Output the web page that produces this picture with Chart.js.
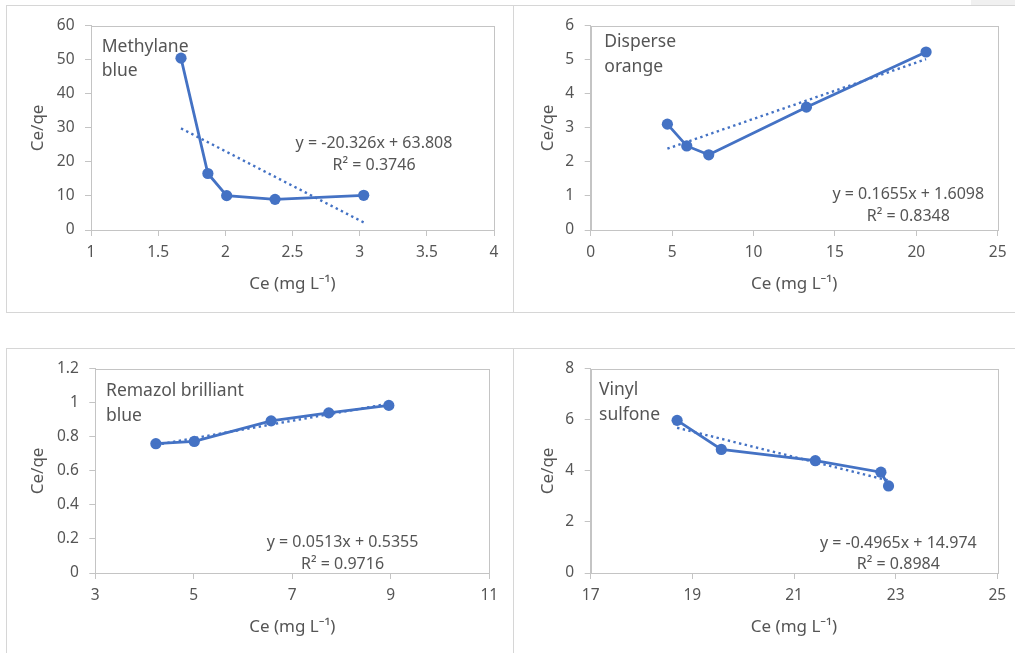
<!DOCTYPE html>
<html><head><meta charset="utf-8">
<script src="https://cdn.jsdelivr.net/npm/chart.js@4.4.1/dist/chart.umd.min.js"></script>
<style>
html,body{margin:0;padding:0;background:#fff;width:1015px;height:653px;overflow:hidden;position:relative;}
.panel{position:absolute;}
.panel canvas{display:block;}
.ln{position:absolute;background:#d6d6d6;}
</style></head><body>
<div class="ln" style="left:971px;top:0;width:44px;height:5px;background:#f0f0f0"></div>
<div class="ln" style="left:7px;top:5px;width:1008px;height:1px"></div>
<div class="ln" style="left:7px;top:312px;width:1008px;height:1px"></div>
<div class="ln" style="left:7px;top:348px;width:1008px;height:1px"></div>
<div class="ln" style="left:6px;top:5px;width:1px;height:308px"></div>
<div class="ln" style="left:513px;top:5px;width:1px;height:308px"></div>
<div class="ln" style="left:6px;top:348px;width:1px;height:305px"></div>
<div class="ln" style="left:513px;top:348px;width:1px;height:305px"></div>
<script>
// ---------- data ----------
const dyeNames = [["Methylane", "blue"], ["Disperse", "orange"], ["Remazol brilliant", "blue"], ["Vinyl", "sulfone"]];

const mbCe    = [1.67, 1.87, 2.01, 2.37, 3.03];
const mbRatio = [50.5, 16.6, 10.1, 9.0, 10.2];

const doCe    = [4.71, 5.90, 7.25, 13.25, 20.6];
const doRatio = [3.11, 2.47, 2.21, 3.61, 5.23];

const rbCe    = [4.23, 5.01, 6.57, 7.74, 8.96];
const rbRatio = [0.760, 0.773, 0.894, 0.941, 0.985];

const vsCe    = [18.70, 19.57, 21.42, 22.71, 22.86];
const vsRatio = [5.98, 4.84, 4.40, 3.95, 3.41];

const trendSlopes     = [-20.326, 0.1655, 0.0513, -0.4965];
const trendIntercepts = [63.808, 1.6098, 0.5355, 14.974];
const r2Values        = ["0.3746", "0.8348", "0.9716", "0.8984"];

const xMins  = [1, 0, 3, 17];
const xMaxs  = [4, 25, 11, 25];
const xSteps = [0.5, 5, 2, 2];
const yMins  = [0, 0, 0, 0];
const yMaxs  = [60, 6, 1.2, 8];
const ySteps = [10, 1, 0.2, 2];

const xTitle = "Ce (mg L\u207B\u00B9)";
const yTitle = "Ce/qe";

// ---------- layout / style ----------
const FONT = "'Noto Sans', 'Open Sans', sans-serif";
const TXT = '#555555';
const BLUE = '#4472C4';
const AXIS = '#c4c4c4';

const layouts = [
  {left:7,   top:6,   w:507, h:307, yW:84,   xH:83, padTop:19,   padRight:20,   yTitlePad:20.8, xTitlePad:18.5,
   nameDx:10.7, nameDy:[26, 50],   eqDx:283,   eqDy:117.7, r2Dy:139.3},
  {left:514, top:6,   w:501, h:307, yW:76.7, xH:83, padTop:18,   padRight:17.3, yTitlePad:23.5, xTitlePad:18.5,
   nameDx:13.6, nameDy:[21, 46],   eqDx:317.6, eqDy:168.7, r2Dy:190.3},
  {left:7,   top:349, w:507, h:304, yW:88.3, xH:80, padTop:17.7, padRight:24.7, yTitlePad:20.8, xTitlePad:16.1,
   nameDx:10.7, nameDy:[27.6, 52.6], eqDx:247.2, eqDy:174, r2Dy:195.6},
  {left:514, top:349, w:501, h:304, yW:76.7, xH:80, padTop:15.3, padRight:17.7, yTitlePad:23.5, xTitlePad:16.1,
   nameDx:8.3, nameDy:[26.4, 51.4], eqDx:307.6, eqDy:174.4, r2Dy:195.7}
];

const seriesX = [mbCe, doCe, rbCe, vsCe];
const seriesY = [mbRatio, doRatio, rbRatio, vsRatio];

const fmt = v => String(+Number(v).toFixed(3));

const framePlugin = {
  id: 'frame',
  beforeDatasetsDraw(chart) {
    const a = chart.chartArea, ctx = chart.ctx;
    ctx.save();
    ctx.strokeStyle = AXIS;
    ctx.lineWidth = 1;
    ctx.strokeRect(Math.round(a.left) + 0.5, Math.round(a.top) + 0.5, Math.round(a.right - a.left), Math.round(a.bottom - a.top));
    ctx.restore();
  }
};

const notePlugin = {
  id: 'notes',
  afterDatasetsDraw(chart, args, o) {
    const a = chart.chartArea, ctx = chart.ctx;
    ctx.save();
    ctx.fillStyle = TXT;
    ctx.font = "17.5px " + FONT;
    ctx.textAlign = 'left';
    ctx.textBaseline = 'alphabetic';
    o.name.forEach((t, k) => ctx.fillText(t, a.left + o.nameDx, a.top + o.nameDy[k]));
    ctx.font = "16px " + FONT;
    ctx.textAlign = 'center';
    ctx.textBaseline = 'middle';
    ctx.fillText(o.eq, a.left + o.eqDx, a.top + o.eqDy);
    ctx.fillText(o.r2, a.left + o.eqDx, a.top + o.r2Dy);
    ctx.restore();
  }
};

function makeChart(i) {
  const L = layouts[i];
  const wrap = document.createElement('div');
  wrap.className = 'panel';
  wrap.style.left = L.left + 'px';
  wrap.style.top = L.top + 'px';
  wrap.style.width = L.w + 'px';
  wrap.style.height = L.h + 'px';
  const cv = document.createElement('canvas');
  cv.width = L.w; cv.height = L.h;
  cv.style.width = L.w + 'px'; cv.style.height = L.h + 'px';
  wrap.appendChild(cv);
  document.body.appendChild(wrap);

  const xs = seriesX[i], ys = seriesY[i];
  const pts = xs.map((x, k) => ({x: x, y: ys[k]}));
  const m = trendSlopes[i], b = trendIntercepts[i];
  const x0 = Math.min(...xs), x1 = Math.max(...xs);
  const trend = [{x: x0, y: m * x0 + b}, {x: x1, y: m * x1 + b}];
  const eq = "y = " + m + "x + " + b;

  const tickFont = {family: FONT, size: 15.5};
  const titleFont = {family: FONT, size: 17};

  new Chart(cv, {
    type: 'scatter',
    data: {datasets: [
      {data: trend, showLine: true, borderColor: BLUE, borderWidth: 2.4, borderDash: [2.4, 3.4],
       pointRadius: 0, pointHoverRadius: 0, fill: false},
      {data: pts, showLine: true, borderColor: BLUE, backgroundColor: BLUE, borderWidth: 2.8,
       pointRadius: 5.6, pointHoverRadius: 5.6, pointBorderWidth: 0, pointBackgroundColor: BLUE, fill: false}
    ]},
    options: {
      responsive: false, animation: false, devicePixelRatio: 1, events: [],
      layout: {padding: {left: 0, top: L.padTop, right: L.padRight, bottom: 0}},
      plugins: {
        legend: {display: false}, tooltip: {enabled: false},
        notes: {name: dyeNames[i], nameDx: L.nameDx, nameDy: L.nameDy, eqDx: L.eqDx, eqDy: L.eqDy, r2Dy: L.r2Dy,
                eq: eq, r2: "R\u00B2 = " + r2Values[i]}
      },
      scales: {
        x: {
          type: 'linear', min: xMins[i], max: xMaxs[i],
          ticks: {stepSize: xSteps[i], color: TXT, font: tickFont, padding: 7, callback: v => fmt(v), maxRotation: 0, autoSkip: false},
          grid: {display: true, drawOnChartArea: false, drawTicks: true, tickLength: 6, color: AXIS, lineWidth: 1},
          border: {display: true, color: AXIS, width: 1},
          title: {display: true, text: xTitle, color: TXT, font: titleFont, padding: {top: 0, bottom: L.xTitlePad}},
          afterFit: s => { s.height = L.xH; }
        },
        y: {
          type: 'linear', min: yMins[i], max: yMaxs[i],
          ticks: {stepSize: ySteps[i], color: TXT, font: tickFont, padding: 10.5, callback: v => fmt(v), autoSkip: false},
          grid: {display: true, drawOnChartArea: false, drawTicks: true, tickLength: 6, color: AXIS, lineWidth: 1},
          border: {display: true, color: AXIS, width: 1},
          title: {display: true, text: yTitle, color: TXT, font: titleFont, padding: {top: L.yTitlePad, bottom: 0}},
          afterFit: s => { s.width = L.yW; }
        }
      }
    },
    plugins: [framePlugin, notePlugin]
  });
}

[0, 1, 2, 3].forEach(makeChart);
</script>
</body></html>
